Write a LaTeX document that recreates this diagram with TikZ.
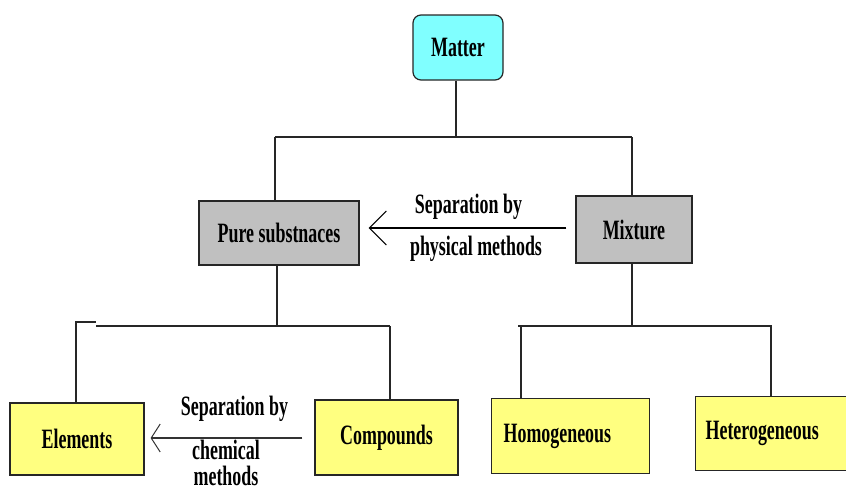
\documentclass[tikz,border=0pt]{standalone}
\usepackage{fontspec}
\newfontfamily\cf{Liberation Serif}[FakeStretch=0.64]
\usetikzlibrary{arrows.meta,calc}
\definecolor{cyanbox}{HTML}{80FFFF}
\definecolor{graybox}{HTML}{C0C0C0}
\definecolor{yellowbox}{HTML}{FFFF80}
\begin{document}
\begin{tikzpicture}[x=1pt,y=-1pt,
  txt/.style={font=\cf\bfseries\fontsize{28}{26}\selectfont, inner sep=0pt},
  box/.style={draw=black!85, line width=1.2pt, txt, inner sep=0pt},
  conn/.style={draw=black!85, line width=1.2pt},
  bigarr/.style={draw=black, line width=2pt, -{Straight Barb[length=17pt,width=34pt,line width=1pt]}},
  smallarr/.style={draw=black!80, line width=1.3pt, -{Straight Barb[length=9pt,width=28pt,line width=1pt]}}
]
\useasboundingbox (0,0) rectangle (846,491);
% boxes
\node[box, fill=cyanbox, rounded corners=8pt, minimum width=90pt, minimum height=65pt] (matter) at (458,47.5) {Matter};
\node[box, fill=graybox, minimum width=160pt, minimum height=64pt] (pure) at (279,233) {Pure substnaces};
\node[box, fill=graybox, minimum width=116pt, minimum height=67pt] (mix) at (634,229.5) {Mixture};
\node[box, fill=yellowbox, minimum width=134pt, minimum height=72pt] (elem) at (77,439) {Elements};
\node[box, fill=yellowbox, minimum width=143pt, minimum height=75pt] (comp) at (386.5,437.5) {Compounds};
\node[box, fill=yellowbox, anchor=north west, minimum height=75pt, text width=134pt, inner xsep=12pt, align=left] (homo) at (491,398) {Homogeneous};
\node[box, fill=yellowbox, anchor=north west, minimum height=74pt, text width=150pt, inner xsep=10pt, align=left] (hetero) at (695,396) {Heterogeneous};
% junction coordinates
\coordinate (jm) at (456,137);
\coordinate (jml) at (275,137);
\coordinate (jmr) at (632,137);
\coordinate (jp) at (277,326);
\coordinate (jpl) at (96,326);
\coordinate (jpt) at (96,322);
\coordinate (jpk) at (76,322);
\coordinate (jpr) at (390,326);
\coordinate (jx) at (632,326);
\coordinate (jxl) at (518,326);
\coordinate (jxr) at (772,326);
% tree connectors
\draw[conn, line width=1.8pt] (matter.south -| jm) -- (jm);
\draw[conn] (jml) -- (jmr);
\draw[conn] (jml) -- (jml |- pure.north);
\draw[conn] (jmr) -- (jmr |- mix.north);
\draw[conn] (pure.south -| jp) -- (jp);
\draw[conn] (jpl) -- (jpr);
\draw[conn, line width=1.6pt] (elem.north -| jpk) -- (jpk) -- (jpt);
\draw[conn] (jpr) -- (jpr |- comp.north);
\draw[conn] (mix.south -| jx) -- (jx);
\draw[conn] (jxl) -- (jxr);
\draw[conn] (521,326) -- (homo.north -| 521,0);
\draw[conn] (771,326) -- (hetero.north -| 771,0);
% separation arrows
\draw[bigarr] ($(mix.west |- 0,228)+(-9,0)$) -- ($(pure.east |- 0,228)+(9,0)$);
\draw[smallarr] ($(comp.west |- 0,438)+(-12,0)$) -- ($(elem.east |- 0,438)+(6,0)$);
% labels
\node[txt, anchor=base] (sep1) at (468.5,213) {Separation by};
\node[txt, anchor=base] (phys) at (476,255) {physical methods};
\node[txt, anchor=base] (sep2) at (234.5,415) {Separation by};
\node[txt, anchor=base, align=center] (chem) at (226,485) {chemical\\methods};
\end{tikzpicture}
\end{document}
